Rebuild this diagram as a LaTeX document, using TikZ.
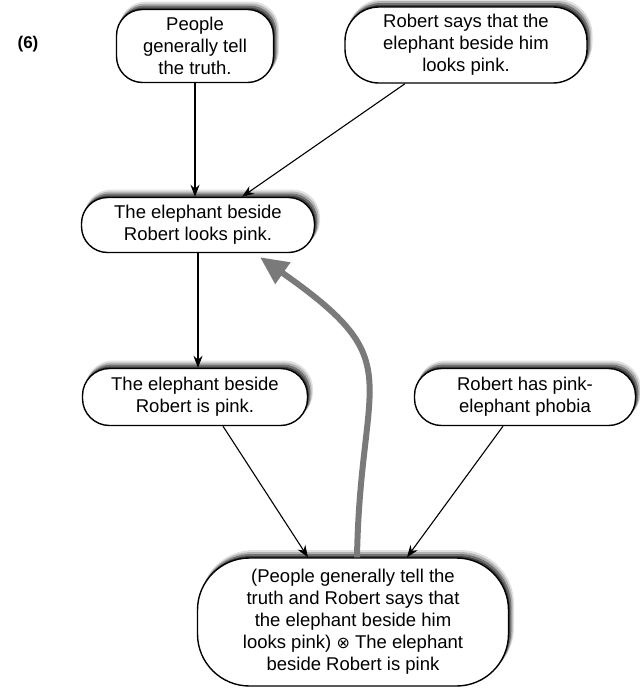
\documentclass[tikz,border=0pt]{standalone}
\usepackage{fontspec}
\setmainfont{Liberation Sans}
\newfontfamily\symfont{DejaVu Sans}
\usetikzlibrary{arrows.meta,shadows}
\begin{document}
\begin{tikzpicture}[x=1pt,y=-1pt,
  box/.style={draw=black, line width=1.4pt, fill=white, align=center,
    font=\fontsize{18.5}{22}\selectfont, inner sep=0pt,
    preaction={fill=black!12, draw=black!12, line width=3pt, transform canvas={shift={(4pt,6.5pt)}}},
    preaction={fill=black!30, draw=black!30, line width=2pt, transform canvas={shift={(3.2pt,5pt)}}},
    preaction={fill=black!55, draw=black!55, line width=1pt, transform canvas={shift={(2.3pt,3.5pt)}}},
    preaction={fill=black!75, transform canvas={shift={(1.3pt,2pt)}}}},
  arr/.style={draw=black, line width=1.1pt, -{Stealth[length=12pt,width=9pt]}},
  garr/.style={draw=black!52, line width=6pt, -{Triangle[length=28pt,width=25pt]}}
]
\useasboundingbox (0,0) rectangle (640,694);
\node (lab) at (28,44) {\fontsize{17}{20}\selectfont\textbf{(6)}};
\node[box, minimum width=157pt, minimum height=73pt, rounded corners=26pt] (A) at (195,46) {People\\generally tell\\the truth.};
\node[box, minimum width=242pt, minimum height=76pt, rounded corners=34pt] (B) at (466,45) {Robert says that the\\elephant beside him\\looks pink.};
\node[box, minimum width=233pt, minimum height=55pt, rounded corners=26pt] (C) at (198,225) {The elephant beside\\Robert looks pink.};
\node[box, minimum width=225pt, minimum height=57pt, rounded corners=27pt] (D) at (195,397) {The elephant beside\\Robert is pink.};
\node[box, minimum width=221pt, minimum height=57pt, rounded corners=27pt] (E) at (525,397) {Robert has pink-\\elephant phobia};
\node[box, minimum width=311pt, minimum height=128pt, rounded corners=52pt] (F) at (353,622) {(People generally tell the\\truth and Robert says that\\the elephant beside him\\looks pink) {\symfont\fontsize{16}{22}\selectfont ⊗} The elephant\\beside Robert is pink};
\coordinate (tip) at ([xshift=62pt,yshift=-4pt]C.south);
\draw[garr] ([xshift=4pt]F.north) to[out=89,in=-35,looseness=1.5] (tip);
\draw[arr] (A.south) -- (A.south |- C.north);
\draw[arr] ([xshift=-61pt]B.south) -- ([xshift=44pt]C.north);
\draw[arr] (C.south) -- (C.south |- D.north);
\draw[arr] ([xshift=28pt]D.south) -- ([xshift=-45pt]F.north);
\draw[arr] ([xshift=-22pt]E.south) -- ([xshift=54pt]F.north);
\end{tikzpicture}
\end{document}
